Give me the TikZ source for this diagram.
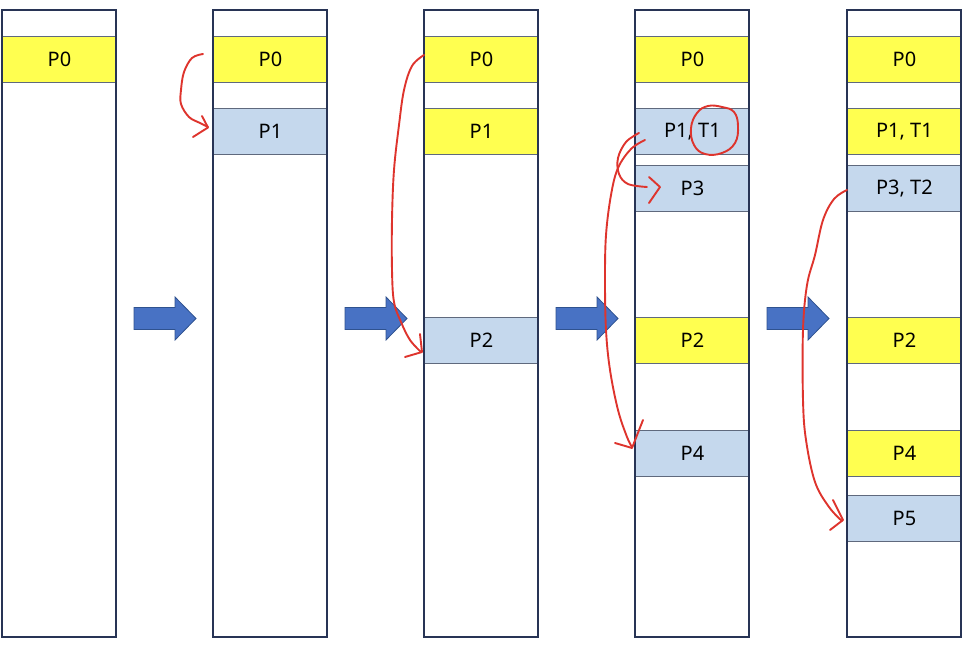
\documentclass[tikz,border=0pt]{standalone}
\usepackage{fontspec}
\setmainfont{Noto Sans}
\definecolor{colframe}{RGB}{40,52,85}
\definecolor{rowline}{RGB}{95,105,125}
\definecolor{ryellow}{RGB}{255,255,80}
\definecolor{rblue}{RGB}{197,216,237}
\definecolor{afill}{RGB}{72,114,196}
\definecolor{aline}{RGB}{47,82,143}
\definecolor{pen}{RGB}{222,52,45}
\begin{document}
\begin{tikzpicture}[x=1pt,y=-1pt,
  colbox/.style={draw=colframe,line width=1.2pt,fill=white},
  rowbox/.style={draw=rowline,line width=0.9pt,minimum width=114pt,minimum height=46pt,inner sep=0pt,anchor=north west,font=\fontsize{20}{24}\selectfont},
  yrow/.style={rowbox,fill=ryellow},
  brow/.style={rowbox,fill=rblue},
  blockarrow/.style={fill=afill,draw=aline,line width=0.8pt},
  ink/.style={draw=pen,line width=1.9pt,line cap=round,line join=round}]
\useasboundingbox (0,0) rectangle (966,650);
% columns
\foreach \cx in {2,213,424,635,847}{
  \path[colbox] (\cx,10) rectangle ++(114,627);
}
% column 1
\node[yrow] (a0) at (2,36) {P0};
% column 2
\node[yrow] (b0) at (213,36) {P0};
\node[brow] (b1) at (213,108) {P1};
% column 3
\node[yrow] (c0) at (424,36) {P0};
\node[yrow] (c1) at (424,108) {P1};
\node[brow] (c2) at (424,317) {P2};
% column 4
\node[yrow] (d0) at (635,36) {P0};
\node[brow] (d1) at (635,108) {P1, T1};
\node[brow] (d3) at (635,165) {P3};
\node[yrow] (d2) at (635,317) {P2};
\node[brow] (d4) at (635,430) {P4};
% column 5
\node[yrow] (e0) at (847,36) {P0};
\node[yrow] (e1) at (847,108) {P1, T1};
\node[brow] (e3) at (847,165) {P3, T2};
\node[yrow] (e2) at (847,317) {P2};
\node[yrow] (e4) at (847,430) {P4};
\node[brow] (e5) at (847,495) {P5};
% redraw column frames on top
\foreach \cx in {2,213,424,635,847}{
  \draw[draw=colframe,line width=1.2pt] (\cx,10) rectangle ++(114,627);
}
% block arrows
\foreach \ax in {134,345,556,767}{
  \begin{scope}[shift={(\ax,0)}]
  \path[blockarrow] (0,307.5) -- (41,307.5) -- (41,297) -- (62,318.5) -- (41,340) -- (41,329.5) -- (0,329.5) -- cycle;
  \end{scope}
}
% hand-drawn red marks
% col 2: P0 -> P1
\draw[ink] plot[smooth,tension=0.6] coordinates {(203,54) (192,58) (184,72) (181,90) (181,104) (189,117) (200,123) (208,127)};
\draw[ink] (202,116) -- (208,127.5) -- (193,137);
% col 3: P0 -> P2
\draw[ink] plot[smooth,tension=0.6] coordinates {(424,55) (412,66) (404,90) (399,125) (394,170) (392,220) (392,270) (394,302) (401,322) (410,340) (421,352)};
\draw[ink] (420,334) -- (422,352) -- (405,357);
% col 4: P1 -> P3
\draw[ink] plot[smooth,tension=0.6] coordinates {(639,133) (626,142) (618,158) (619,174) (628,184) (647,187)};
\draw[ink] (649,177) -- (660,187) -- (649,203);
% col 4: P1 -> P4
\draw[ink] plot[smooth,tension=0.6] coordinates {(645,140) (631,149) (618,168) (611,195) (606,235) (605,280) (606,330) (610,370) (618,410) (627,437) (632,447)};
\draw[ink] (643,420) -- (632,448) -- (615,443);
% circle round T1
\draw[ink] plot[smooth cycle,tension=0.7] coordinates {(722,107) (734,112) (738,126) (735,143) (722,153) (705,154) (694,145) (691,128) (697,113) (708,106)};
% col 5: P3 -> P5
\draw[ink] plot[smooth,tension=0.6] coordinates {(847,190) (834,199) (823,220) (815,255) (807,285) (803,330) (803,400) (806,440) (815,482) (829,507) (842,521)};
\draw[ink] (833,500) -- (843,520) -- (830,530);
\end{tikzpicture}
\end{document}
